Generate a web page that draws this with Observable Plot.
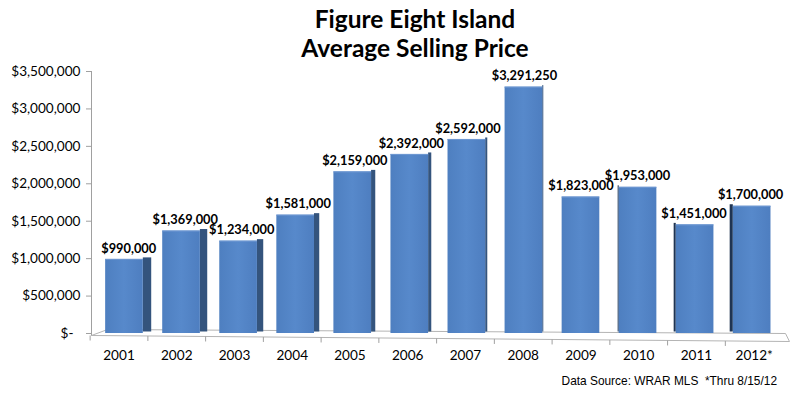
<!DOCTYPE html>
<html>
<head>
<meta charset="utf-8">
<script src="https://cdn.jsdelivr.net/npm/d3@7"></script>
<script src="https://cdn.jsdelivr.net/npm/@observablehq/plot@0.6"></script>
<style>
  html, body { margin: 0; padding: 0; background: #fff; }
  #wrap { width: 800px; height: 399px; overflow: hidden; position: relative; }
  #title { width: 800px; height: 58px; box-sizing: border-box; padding-top: 4px; padding-left: 30px;
           text-align: center; font-family: Lato, "Open Sans", sans-serif; font-weight: bold;
           font-size: 24.5px; line-height: 29px; color: #000; }
  #caption { width: 800px; box-sizing: border-box; padding-right: 23px; text-align: right;
             font-family: "Liberation Sans", Arial, sans-serif; font-size: 11.9px; line-height: 22px;
             color: #000; white-space: pre; }
  svg { display: block; }
</style>
</head>
<body>
<div id="wrap">
  <div id="title">Figure Eight Island<br>Average Selling Price</div>
  <div id="chart"></div>
  <div id="caption">Data Source: WRAR MLS  *Thru 8/15/12</div>
</div>
<script>
// ---- data ----
const years = ["2001", "2002", "2003", "2004", "2005", "2006", "2007", "2008", "2009", "2010", "2011", "2012*"];
const prices = [990000, 1369000, 1234000, 1581000, 2159000, 2392000, 2592000, 3291250, 1823000, 1953000, 1451000, 1700000];
const yTicks = [0, 500000, 1000000, 1500000, 2000000, 2500000, 3000000, 3500000];

// ---- layout / style constants ----
const W = 800, H = 312, mL = 91, mR = 10, mT = 13, mB = 37;
const xDomain = [-0.578, 11.672];
const yDomain = [0, 3500000];
const pxX = (W - mL - mR) / (xDomain[1] - xDomain[0]);     // px per x unit
const pxY = (H - mT - mB) / (yDomain[1] - yDomain[0]);     // px per y unit
const halfBar = 0.33;
const vanish = 8;                 // perspective vanishing index
const persp = 0.012;              // front-edge spread
const sidePx = i => (vanish - i) * 1.05;  // visible side face width (px), negative => left side
const front = i => i + (i - vanish) * persp;
const py = px => px / pxY;        // px offset -> y units (upwards positive)

const table = years.map((year, i) => ({ year, price: prices[i], i }));

// floor (3D base)
const floorFrontL = -2, floorFrontR = -8, floorBackL = 4, floorBackR = 0;
const floor = [
  { x: xDomain[0], y: py(floorFrontL) },
  { x: xDomain[0] + 16 / pxX, y: py(floorBackL) },
  { x: xDomain[1] - 5 / pxX, y: py(floorBackR) },
  { x: xDomain[1] - 1 / pxX, y: py(floorFrontR) },
  { x: xDomain[0], y: py(floorFrontL) }
];
const frontY = x => py(floorFrontL + (floorFrontR - floorFrontL) * (x - xDomain[0]) / (xDomain[1] - xDomain[0]));
const bounds = d3.range(0, 12).map(i => ({ x: front(i - 0.5) }));

const fmt = d3.format("$,");

const plot = Plot.plot({
  width: W, height: H,
  marginLeft: mL, marginRight: mR, marginTop: mT, marginBottom: mB,
  style: { fontFamily: "Lato, 'Open Sans', sans-serif", background: "#fff", overflow: "visible" },
  x: { domain: xDomain, axis: null },
  y: { domain: yDomain, axis: null },
  marks: [
    // floor
    Plot.line(floor, { x: "x", y: "y", stroke: "#b4b4b4", strokeWidth: 1 }),
    // category boundary ticks below floor
    Plot.link(bounds, {
      x1: "x", x2: "x",
      y1: d => frontY(d.x), y2: d => frontY(d.x) - py(5),
      stroke: "#a0a0a0", strokeWidth: 1
    }),
    // y axis line
    Plot.ruleX([xDomain[0]], { y1: py(floorFrontL), y2: yDomain[1], stroke: "#a0a0a0", strokeWidth: 1 }),
    Plot.axisY({
      ticks: yTicks, tickSize: 5, tickPadding: 6, stroke: "#a0a0a0",
      tickFormat: d => d === 0 ? "$-\u00a0\u00a0" : fmt(d),
      fontSize: 13.6, fill: "#000"
    }),
    // side faces
    Plot.rect(table, {
      x1: d => sidePx(d.i) >= 0 ? d.i + halfBar : d.i - halfBar + sidePx(d.i) / pxX,
      x2: d => sidePx(d.i) >= 0 ? d.i + halfBar + sidePx(d.i) / pxX : d.i - halfBar,
      y1: 0, y2: "price",
      dy: -1.5,
      fill: d => sidePx(d.i) >= 0 ? "#34547d" : "#1f3452"
    }),
    // front faces
    Plot.rect(table, {
      x1: d => d.i - halfBar, x2: d => d.i + halfBar,
      y1: 0, y2: "price",
      fill: "url(#barGrad)"
    }),
    // top edge highlight
    Plot.ruleY(table, {
      x1: d => d.i - halfBar, x2: d => d.i + halfBar,
      y: "price", stroke: "#6f98d2", strokeWidth: 1
    }),
    // value labels
    Plot.text(table, {
      x: d => d.i + sidePx(d.i) / 2 / pxX, y: "price", dy: -11,
      text: d => fmt(d.price), fontWeight: "bold", fontSize: 12.8, fill: "#000"
    }),
    // category labels
    Plot.text(table, {
      x: d => front(d.i), y: 0, dy: 22,
      text: "year", fontSize: 13.6, fill: "#000"
    })
  ]
});

// gradient for bar front faces
const ns = "http://www.w3.org/2000/svg";
const defs = document.createElementNS(ns, "defs");
defs.innerHTML = `<linearGradient id="barGrad" x1="0" x2="1" y1="0" y2="0">
  <stop offset="0" stop-color="#4e7fc0"/>
  <stop offset="0.5" stop-color="#5789cb"/>
  <stop offset="1" stop-color="#4e7ec0"/>
</linearGradient>`;
plot.insertBefore(defs, plot.firstChild);
document.getElementById("chart").appendChild(plot);
</script>
</body>
</html>
